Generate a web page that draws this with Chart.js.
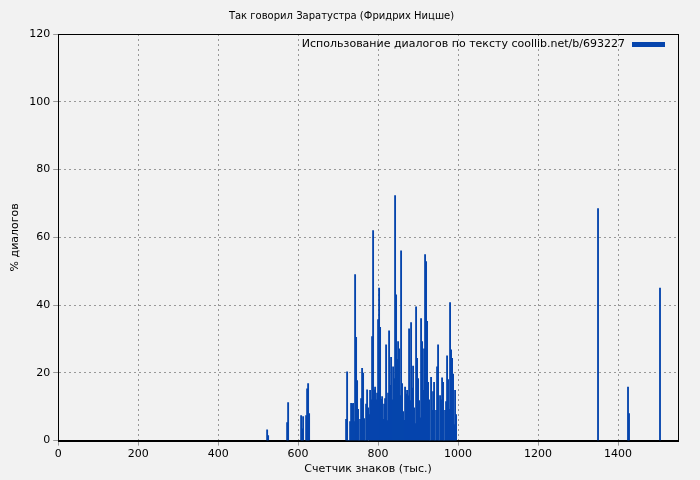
<!DOCTYPE html>
<html><head><meta charset="utf-8">
<script src="https://cdn.jsdelivr.net/npm/chart.js@4/dist/chart.umd.min.js"></script>
<style>html,body{margin:0;background:#f2f2f2}#w{width:700px;height:480px}</style>
</head><body><div id="w"><canvas id="c"></canvas></div>
<script>
const titleText = "Так говорил Заратустра (Фридрих Ницше)";
const seriesName = "Использование диалогов по тексту coollib.net/b/693227";
const xLabel = "Счетчик знаков (тыс.)";
const yLabel = "% диалогов";
const xPos = [522.5,525,572.5,575,607.5,610,612.5,620,622.5,625,627.5,
720,722.5,725,727.5,730,732.5,735,737.5,740,742.5,745,747.5,750,752.5,755,757.5,760,762.5,765,767.5,
770,772.5,775,777.5,780,782.5,785,787.5,790,792.5,795,797.5,800,802.5,805,807.5,810,812.5,815,817.5,
820,822.5,825,827.5,830,832.5,835,837.5,840,842.5,845,847.5,850,852.5,855,857.5,860,862.5,865,867.5,
870,872.5,875,877.5,880,882.5,885,887.5,890,892.5,895,897.5,900,902.5,905,907.5,910,912.5,915,917.5,
920,922.5,925,927.5,930,932.5,935,937.5,940,942.5,945,947.5,950,952.5,955,957.5,960,962.5,965,967.5,
970,972.5,975,977.5,980,982.5,985,987.5,990,992.5,995,
1350,1425,1427.5,1505];
const dialogPct = [3.2,1.5,5.3,11.2,7.4,3.5,7.1,7.4,15.3,16.8,8,
6.3,20.3,0,0,5.6,11,10.8,11,5.6,49,30.5,17.7,9.2,0,6.3,12.4,21.3,19.9,6.5,0,
10.8,15,9.7,7.7,14.8,12,30.7,62,15,15.8,12,14,35.7,45,33.4,12.2,13,6.3,10.8,12.4,
28.3,5.9,14,32.4,16.3,24.6,12,21.8,18.3,72.3,43,24,29.2,27.1,13.3,56,16.8,8.6,6,15.8,
13.7,14.8,13.2,33,11.8,34.8,15.5,22,9.7,5,39.5,24.3,18.3,11.8,6.7,36,29.2,14.8,27.1,54.9,
52.8,35.2,17.2,12,0,18.7,8.9,14.5,17.2,0,8.9,21.8,28.3,0,13.3,12,18.5,17.2,0,8.9,
11.5,25,18,9.2,40.7,26.8,24.3,19.6,4.7,14.8,7.7,
68.5,15.8,8,45];
const xTicks = [0,200,400,600,800,1000,1200,1400];
const pts = xPos.map((x,i)=>({x:x,y:dialogPct[i]}));
const font = {family:"DejaVu Sans", size:11};
const barColor = '#0645ad';
Chart.defaults.font = font;
Chart.defaults.color = "#000";
new Chart(document.getElementById('c'), {
  type:'bar',
  data:{datasets:[{label:seriesName,data:pts,backgroundColor:barColor,borderWidth:0,barThickness:1.2,grouped:false}]},
  options:{
    responsive:true,maintainAspectRatio:false,animation:false,
    layout:{padding:{top:0,right:22,left:5,bottom:4}},
    plugins:{
      title:{display:true,text:titleText,font:{family:"DejaVu Sans",size:10,weight:'normal'},padding:{top:10,bottom:12}},
      legend:{display:false},
      tooltip:{enabled:false}
    },
    scales:{
      x:{type:'linear',min:0,max:1550,offset:false,
        afterBuildTicks:a=>{a.ticks=xTicks.map(v=>({value:v}));},
        ticks:{font:font,padding:2,callback:v=>String(v)},
        grid:{color:'#999',lineWidth:1,tickLength:5,offset:false},
        border:{display:true,color:'#000',dash:[2,3]},
        title:{display:true,text:xLabel,font:font,padding:{top:0,bottom:0}}},
      y:{min:0,max:120,ticks:{stepSize:20,font:font,padding:3},
        grid:{color:'#999',tickLength:5},
        border:{color:'#000',dash:[2,3]},
        title:{display:true,text:yLabel,font:font}}
    }
  },
  plugins:[{id:'frame',afterDraw(ch){
    const c=ch.ctx,a=ch.chartArea;
    c.save();c.strokeStyle='#000';c.lineWidth=1;c.setLineDash([]);
    c.strokeRect(Math.round(a.left)+0.5,Math.round(a.top)+0.5,Math.round(a.right-a.left),Math.round(a.bottom-a.top));
    c.font='11px "DejaVu Sans"';c.fillStyle='#000';c.textAlign='right';c.textBaseline='middle';
    const ly=a.top+10;
    c.fillText(seriesName,a.right-53,ly);
    c.fillStyle=barColor;c.fillRect(a.right-46,ly-2,33,5);
    c.restore();
  }}]
});
</script></body></html>
